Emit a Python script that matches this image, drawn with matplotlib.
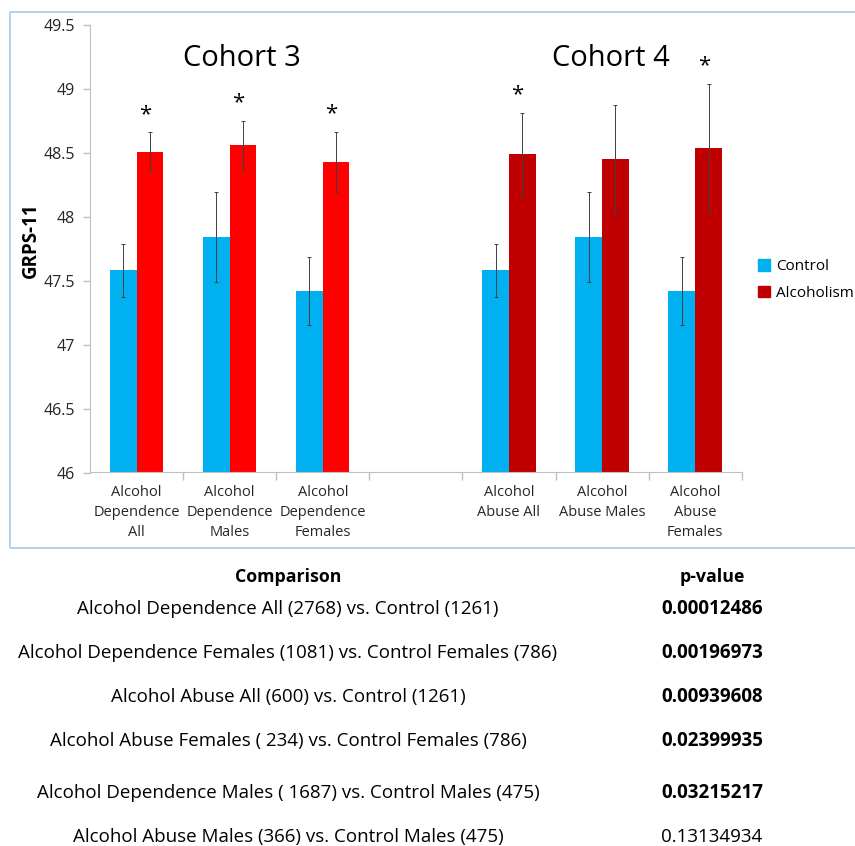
import matplotlib.pyplot as plt
import matplotlib.patches as mpatches
import numpy as np

# Dados
categorias = ['Alcohol\nDependence\nAll', 'Alcohol\nDependence\nMales', 'Alcohol\nDependence\nFemales',
              'Alcohol\nAbuse All', 'Alcohol\nAbuse Males', 'Alcohol\nAbuse\nFemales']
controle = [47.58, 47.84, 47.42, 47.58, 47.84, 47.42]
controle_err = [0.21, 0.35, 0.265, 0.21, 0.35, 0.265]
alcoolismo = [48.51, 48.56, 48.43, 48.49, 48.45, 48.54]
alcoolismo_err = [0.15, 0.19, 0.235, 0.325, 0.425, 0.50]
significativo = [True, True, True, True, False, True]
y_ticks = [46, 46.5, 47, 47.5, 48, 48.5, 49, 49.5]
y_labels = ['46', '46.5', '47', '47.5', '48', '48.5', '49', '49.5']

comparacoes = ['Alcohol Dependence All (2768) vs. Control (1261)',
               'Alcohol Dependence Females (1081) vs. Control Females (786)',
               'Alcohol Abuse All (600) vs. Control (1261)',
               'Alcohol Abuse Females ( 234) vs. Control Females (786)',
               'Alcohol Dependence Males ( 1687) vs. Control Males (475)',
               'Alcohol Abuse Males (366) vs. Control Males (475)']
p_valores = ['0.00012486', '0.00196973', '0.00939608', '0.02399935', '0.03215217', '0.13134934']

azul = '#00B0F0'
vermelhos = ['#FF0000'] * 3 + ['#C00000'] * 3
plt.rcParams['font.family'] = ['Open Sans', 'DejaVu Sans']

W, H = 855, 846
fig = plt.figure(figsize=(W / 100, H / 100), dpi=100)

# moldura do gráfico
fig.patches.append(mpatches.Rectangle((9.5 / W, 1 - 548 / H), 1, (548 - 12) / H,
                                      transform=fig.transFigure, fill=False,
                                      edgecolor='#A9C8E8', linewidth=1.2))

ax = fig.add_axes([90 / W, 1 - 472.5 / H, (741.7 - 90) / W, (472.5 - 25) / H])

# posições: 7 espaços, o do meio vazio
pos = np.array([0, 1, 2, 4, 5, 6]) + 0.5
larg = 0.287

ax.bar(pos - larg / 2, np.array(controle) - 46, larg, bottom=46, color=azul, zorder=2)
ax.bar(pos + larg / 2, np.array(alcoolismo) - 46, larg, bottom=46, color=vermelhos, zorder=2)
ax.errorbar(pos - larg / 2, controle, yerr=controle_err, fmt='none', ecolor='#404040',
            elinewidth=0.7, capsize=1.5, capthick=0.7, zorder=3)
ax.errorbar(pos + larg / 2, alcoolismo, yerr=alcoolismo_err, fmt='none', ecolor='#404040',
            elinewidth=0.7, capsize=1.5, capthick=0.7, zorder=3)

# asteriscos de significância
for x, v, e, s in zip(pos, alcoolismo, alcoolismo_err, significativo):
    if s:
        ax.text(x + larg / 2 - 0.05, v + e + 0.06, '*', ha='center', va='bottom', fontsize=16)

ax.text(1.63, 49.24, 'Cohort 3', ha='center', va='center', fontsize=21)
ax.text(5.59, 49.24, 'Cohort 4', ha='center', va='center', fontsize=21)

ax.set_xlim(0, 7)
ax.set_ylim(46, 49.5)
ax.set_yticks(y_ticks)
ax.set_yticklabels(y_labels, fontsize=11.5, color='#262626')
ax.set_xticks(pos)
ax.set_xticklabels(categorias, fontsize=10.5, color='#262626', linespacing=1.45)
ax.set_xticks(np.arange(1, 8), minor=True)
ax.tick_params(axis='x', which='major', length=0, pad=9)
ax.tick_params(axis='x', which='minor', length=6, color='#BFBFBF', width=1)
ax.tick_params(axis='y', length=5, color='#BFBFBF', width=1, pad=6)
for lado in ['top', 'right']:
    ax.spines[lado].set_visible(False)
for lado in ['left', 'bottom']:
    ax.spines[lado].set_color('#BFBFBF')
ax.set_ylabel('GRPS-11', fontsize=13.5, fontweight='bold')
ax.yaxis.set_label_coords(-0.075, 0.52)

fig.legend(handles=[mpatches.Patch(color=azul, label='Control'),
                    mpatches.Patch(color='#C00000', label='Alcoholism')],
           loc='center left', bbox_to_anchor=(752 / W, 1 - 280 / H), frameon=False,
           fontsize=11, handlelength=0.75, handleheight=0.75, handletextpad=0.45,
           labelspacing=0.75, borderaxespad=0)

# tabela de comparações
fig.text(288 / W, 1 - 577 / H, 'Comparison', ha='center', va='center',
         fontsize=12.8, fontweight='bold')
fig.text(712 / W, 1 - 577 / H, 'p-value', ha='center', va='center',
         fontsize=12.8, fontweight='bold')
linhas_y = [609, 653, 697, 741, 793, 837]
for y, c, p in zip(linhas_y, comparacoes, p_valores):
    fig.text(288 / W, 1 - y / H, c, ha='center', va='center', fontsize=13.5)
    peso = 'bold' if float(p) < 0.05 else 'normal'
    fig.text(712 / W, 1 - y / H, p, ha='center', va='center', fontsize=13.5, fontweight=peso)

fig.savefig('out.png', dpi=100)
